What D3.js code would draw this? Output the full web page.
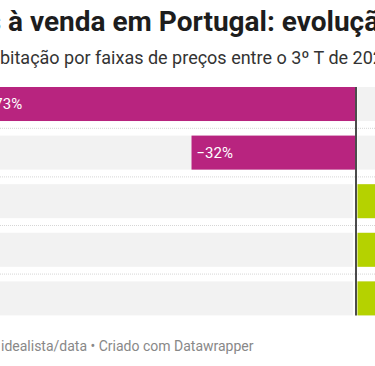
<!DOCTYPE html>
<html>
<head>
<meta charset="utf-8">
<script src="https://cdn.jsdelivr.net/npm/d3@7"></script>
<style>
  body { margin: 0; background: #fff; overflow: hidden; }
  svg { display: block; font-family: Roboto, "Noto Sans", sans-serif; }
  svg text { white-space: pre; }
</style>
</head>
<body>
<svg id="chart" width="375" height="366"></svg>
<script>
// data
const categories = ["Mais de 500 mil €", "350-500 mil €", "200-350 mil €", "100-200 mil €", "Até 100 mil €"];
const values = [-73, -32, 18, 27, 41];
const valueLabels = ["−73%", "−32%", "+18%", "+27%", "+41%"];

const titleText = "Casas à venda em Portugal: evolução dos preços";
const titleHidden = "Casas ";
const subtitleText = "Variação do preço da habitação por faixas de preços entre o 3º T de 2022 e o 3º T de 2023";
const subtitleHidden = "Variação do preço da ha";
const footerText = "Fonte: idealista/data • Criado com Datawrapper";
const footerHidden = "Fonte: ";

const svg = d3.select("#chart");

// measure hidden prefix so visible part lines up
function prefixWidth(str, size, weight) {
  const t = svg.append("text").attr("font-size", size).attr("font-weight", weight).text(str);
  const w = t.node().getComputedTextLength();
  t.remove();
  return w;
}

svg.append("text")
  .attr("x", 8 - prefixWidth(titleHidden, 28, 700))
  .attr("y", 31)
  .attr("font-size", 28)
  .attr("font-weight", 700)
  .attr("fill", "#1d1d1d")
  .text(titleText);

svg.append("text")
  .attr("x", 0 - prefixWidth(subtitleHidden, 18, 400))
  .attr("y", 64)
  .attr("font-size", 18)
  .attr("fill", "#333")
  .text(subtitleText);

const y = d3.scaleBand()
  .domain(categories)
  .range([87, 315.4])
  .paddingInner(0.3)
  .paddingOuter(0);

const x = d3.scaleLinear()
  .domain([-100, 100])
  .range([356 - 514, 356 + 514]);

const x0 = x(0);
const rows = categories.map((c, i) => ({ cat: c, v: values[i], label: valueLabels[i] }));

// row backgrounds
svg.selectAll(".bg-left").data(rows).join("rect")
  .attr("x", x(-100))
  .attr("y", d => y(d.cat))
  .attr("width", x0 - 3 - x(-100))
  .attr("height", y.bandwidth())
  .attr("fill", "#f2f2f2");

svg.selectAll(".bg-right").data(rows).join("rect")
  .attr("x", x0 + 1.5)
  .attr("y", d => y(d.cat))
  .attr("width", x(100) - x0)
  .attr("height", y.bandwidth())
  .attr("fill", "#f2f2f2");

// dotted separators
const gap = y.step() - y.bandwidth();
svg.selectAll(".sep").data(categories.slice(1)).join("line")
  .attr("x1", x(-100))
  .attr("x2", x(100))
  .attr("y1", d => y(d) - gap / 2)
  .attr("y2", d => y(d) - gap / 2)
  .attr("stroke", "#d6d6d6")
  .attr("stroke-width", 1)
  .attr("stroke-dasharray", "1,1");

// bars
svg.selectAll(".bar").data(rows).join("rect")
  .attr("x", d => d.v < 0 ? x(d.v) : x0 + 1.5)
  .attr("y", d => y(d.cat))
  .attr("width", d => d.v < 0 ? x0 - 1 - x(d.v) : x(d.v) - x0 - 1.5)
  .attr("height", y.bandwidth())
  .attr("fill", d => d.v < 0 ? "#b8247f" : "#b5d200");

// value labels inside negative bars
svg.selectAll(".val").data(rows.filter(d => d.v < 0)).join("text")
  .attr("x", d => x(d.v) + 5)
  .attr("y", d => y(d.cat) + y.bandwidth() / 2)
  .attr("dy", "0.35em")
  .attr("font-size", 15)
  .attr("fill", "#fff")
  .text(d => d.label);

svg.selectAll(".val-pos").data(rows.filter(d => d.v >= 0)).join("text")
  .attr("x", d => x(d.v) - 5)
  .attr("y", d => y(d.cat) + y.bandwidth() / 2)
  .attr("dy", "0.35em")
  .attr("text-anchor", "end")
  .attr("font-size", 15)
  .attr("fill", "#333")
  .text(d => d.label);

// zero line
svg.append("line")
  .attr("x1", x0).attr("x2", x0)
  .attr("y1", y(categories[0]))
  .attr("y2", y(categories[categories.length - 1]) + y.bandwidth())
  .attr("stroke", "#111")
  .attr("stroke-width", 1.5);

svg.append("text")
  .attr("x", 1 - prefixWidth(footerHidden, 14, 400))
  .attr("y", 351)
  .attr("font-size", 14)
  .attr("fill", "#888")
  .text(footerText);
</script>
</body>
</html>
